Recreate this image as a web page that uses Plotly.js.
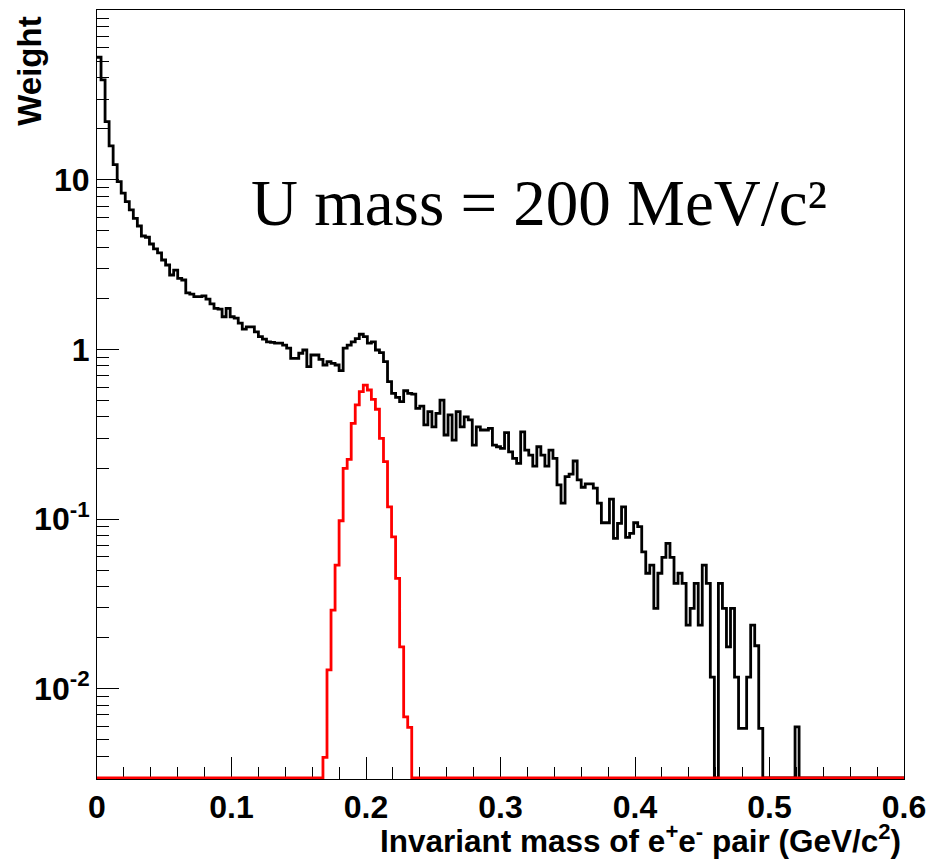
<!DOCTYPE html>
<html>
<head>
<meta charset="utf-8">
<script src="https://cdn.plot.ly/plotly-3.0.1.min.js"></script>
<style>html,body{margin:0;padding:0;background:#fff;}</style>
</head>
<body>
<div id="chart" style="width:947px;height:861px"></div>
<script>
// ---- data: invariant mass histogram, 200 bins of 0.003 GeV/c^2 from 0 to 0.6 ----
const BIN_WIDTH = 0.003;
const N_BINS = 200;

// total weight per bin (black histogram)
const totalWeights = [
  52.9, 38.9, 22.1, 15.9, 12.3, 9.77, 8.35, 7.45, 6.65, 5.94,
  5.35, 4.67, 4.59, 4.19, 3.92, 3.71, 3.37, 3.15, 2.75, 2.94,
  2.63, 2.57, 2.16, 2.12, 2.05, 2.05, 2.07, 1.98, 1.86, 1.75,
  1.73, 1.56, 1.75, 1.56, 1.53, 1.43, 1.32, 1.36, 1.36, 1.27,
  1.19, 1.15, 1.11, 1.10, 1.09, 1.09, 1.06, 1.02, 0.887, 0.887,
  0.950, 0.993, 0.792, 0.928, 0.928, 0.875, 0.810, 0.848, 0.829, 0.810,
  0.750, 1.02, 1.06, 1.11, 1.16, 1.23, 1.19, 1.09, 1.11, 0.993,
  0.957, 0.848, 0.646, 0.551, 0.522, 0.492, 0.571, 0.551, 0.546, 0.450,
  0.464, 0.359, 0.430, 0.350, 0.420, 0.503, 0.313, 0.411, 0.292, 0.430,
  0.350, 0.401, 0.384, 0.273, 0.350, 0.335, 0.335, 0.343, 0.273, 0.267,
  0.261, 0.323, 0.249, 0.228, 0.213, 0.327, 0.255, 0.238, 0.205, 0.267,
  0.238, 0.205, 0.255, 0.228, 0.159, 0.124, 0.178, 0.184, 0.220, 0.170,
  0.154, 0.161, 0.161, 0.152, 0.124, 0.0951, 0.0951, 0.131, 0.0769, 0.0943,
  0.118, 0.0780, 0.0823, 0.0951, 0.0901, 0.0641, 0.0479, 0.0535, 0.0297, 0.0479,
  0.0594, 0.0719, 0.0594, 0.0418, 0.0479, 0.0418, 0.0237, 0.0297, 0.0418, 0.0237,
  0.0535, 0.0418, 0.0117, 0, 0.0418, 0.0297, 0.0176, 0.0297, 0.0117, 0.00582,
  0.00582, 0.0117, 0.0237, 0.0179, 0.00582, 0, 0, 0, 0, 0,
  0, 0, 0, 0.00595, 0, 0, 0, 0, 0, 0,
  0, 0, 0, 0, 0, 0, 0, 0, 0, 0,
  0, 0, 0, 0, 0, 0, 0, 0, 0, 0
];

// U boson signal weight per bin (red histogram)
const signalWeights = [
  0, 0, 0, 0, 0, 0, 0, 0, 0, 0, 0, 0, 0, 0, 0, 0, 0, 0, 0, 0,
  0, 0, 0, 0, 0, 0, 0, 0, 0, 0, 0, 0, 0, 0, 0, 0, 0, 0, 0, 0,
  0, 0, 0, 0, 0, 0, 0, 0, 0, 0, 0, 0, 0, 0, 0, 0, 0.00393, 0.0129, 0.0290, 0.0535,
  0.0977, 0.199, 0.225, 0.367, 0.471, 0.564, 0.617, 0.577, 0.508, 0.444, 0.299, 0.218, 0.118, 0.0786, 0.0447, 0.0176, 0.00682, 0.0059, 0, 0,
  0, 0, 0, 0, 0, 0, 0, 0, 0, 0, 0, 0, 0, 0, 0, 0, 0, 0, 0, 0,
  0, 0, 0, 0, 0, 0, 0, 0, 0, 0, 0, 0, 0, 0, 0, 0, 0, 0, 0, 0,
  0, 0, 0, 0, 0, 0, 0, 0, 0, 0, 0, 0, 0, 0, 0, 0, 0, 0, 0, 0,
  0, 0, 0, 0, 0, 0, 0, 0, 0, 0, 0, 0, 0, 0, 0, 0, 0, 0, 0, 0,
  0, 0, 0, 0, 0, 0, 0, 0, 0, 0, 0, 0, 0, 0, 0, 0, 0, 0, 0, 0,
  0, 0, 0, 0, 0, 0, 0, 0, 0, 0, 0, 0, 0, 0, 0, 0, 0, 0, 0, 0
];

const yTickVals = [0.01, 0.1, 1, 10];
const yTickText = ['10<sup>-2</sup>', '10<sup>-1</sup>', '1', '10'];
const xTitle = 'Invariant mass of e<sup>+</sup>e<sup>-</sup> pair (GeV/c<sup>2</sup>)';
const yTitle = 'Weight';
const label = 'U mass = 200 MeV/c\u00B2';

// ---- axis settings ----
const X_MIN = 0, X_MAX = 0.6;
const Y_MIN = 0.00293, Y_MAX = 100.5;
const Y_FLOOR = 0.00297; // empty bins are drawn on the frame bottom, like ROOT
const FONT = 'Liberation Sans, Arial, Helvetica, sans-serif';

const edges = [];
for (let i = 0; i <= N_BINS; i++) edges.push(+(i * BIN_WIDTH).toFixed(4));
function stepY(w) {
  const ys = w.map(v => (v > 0 ? v : Y_FLOOR));
  ys.push(ys[ys.length - 1]);
  return ys;
}
const minorY = [];
for (let e = -3; e <= 2; e++) {
  for (let m = 2; m <= 9; m++) {
    const v = m * Math.pow(10, e);
    if (v > Y_MIN && v < Y_MAX) minorY.push(v);
  }
}

const traces = [
  {x: edges, y: stepY(totalWeights), type: 'scatter', mode: 'lines',
   line: {shape: 'hv', color: '#000000', width: 2.8}, hoverinfo: 'skip'},
  {x: edges, y: stepY(signalWeights), type: 'scatter', mode: 'lines',
   line: {shape: 'hv', color: '#ff0000', width: 2.8}, hoverinfo: 'skip'}
];

const tickFont = {family: FONT, size: 32, weight: 700, color: '#000'};

const layout = {
  width: 947, height: 861,
  margin: {l: 97, r: 43, t: 10, b: 82, pad: 0},
  paper_bgcolor: '#ffffff', plot_bgcolor: '#ffffff',
  showlegend: false,
  xaxis: {
    range: [X_MIN, X_MAX], tickmode: 'linear', tick0: 0, dtick: 0.1,
    ticks: 'inside', ticklen: 22, tickwidth: 1, tickcolor: '#000',
    showgrid: false, zeroline: false, showline: true, linecolor: '#000', linewidth: 1,
    mirror: true, layer: 'below traces', tickfont: tickFont, fixedrange: true,
    minor: {tick0: 0, dtick: 0.02, ticks: 'inside', ticklen: 12, tickwidth: 1, tickcolor: '#000', showgrid: false}
  },
  yaxis: {
    type: 'log', range: [Math.log10(Y_MIN), Math.log10(Y_MAX)],
    tickmode: 'array', tickvals: yTickVals, ticktext: yTickText,
    ticks: 'inside', ticklen: 22, tickwidth: 1, tickcolor: '#000',
    showgrid: false, zeroline: false, showline: true, linecolor: '#000', linewidth: 1,
    mirror: true, layer: 'below traces', tickfont: tickFont, fixedrange: true,
    minor: {tickmode: 'array', tickvals: minorY, ticks: 'inside', ticklen: 12, tickwidth: 1, tickcolor: '#000', showgrid: false}
  },
  annotations: [
    {text: xTitle, xref: 'paper', yref: 'paper', x: 0.998, y: -0.1055,
     xanchor: 'right', yanchor: 'bottom', showarrow: false, borderpad: 0,
     font: {family: FONT, size: 31.5, weight: 700, color: '#000'}},
    {text: yTitle, xref: 'paper', yref: 'paper', x: -0.084, y: 0.92,
     xanchor: 'center', yanchor: 'middle', textangle: -90, showarrow: false,
     font: {family: FONT, size: 33, weight: 700, color: '#000'}},
    {text: label, xref: 'paper', yref: 'paper', x: 0.188, y: 0.749,
     xanchor: 'left', yanchor: 'middle', showarrow: false,
     font: {family: 'Liberation Serif, Times New Roman, serif', size: 65, color: '#000'}}
  ]
};

Plotly.newPlot('chart', traces, layout, {staticPlot: true, displayModeBar: false});
</script>
</body>
</html>
